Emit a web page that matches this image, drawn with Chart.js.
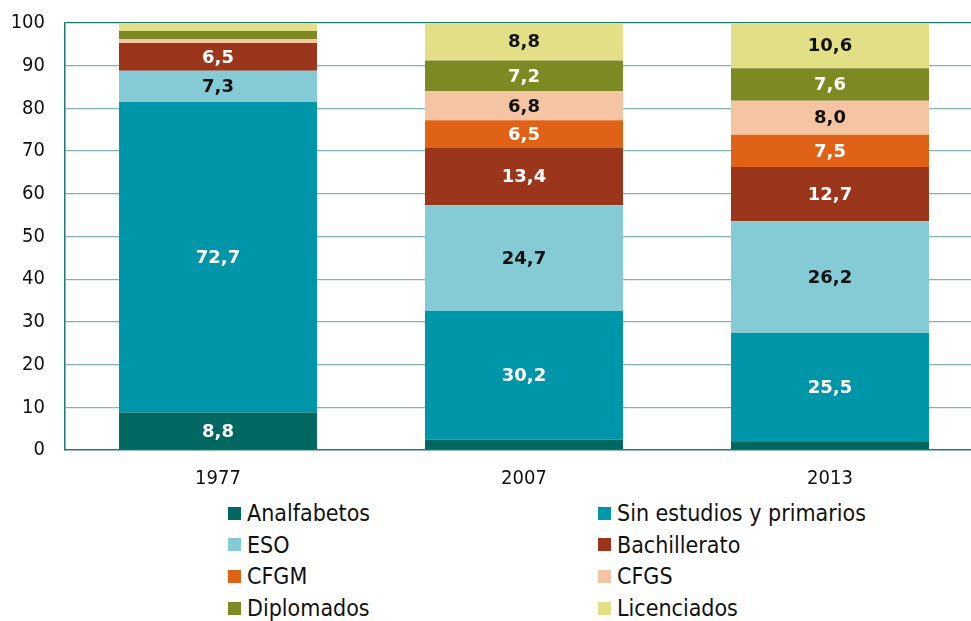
<!DOCTYPE html>
<html>
<head>
<meta charset="utf-8">
<script src="https://cdn.jsdelivr.net/npm/chart.js@4.4.1/dist/chart.umd.min.js"></script>
<style>
  html, body { margin: 0; padding: 0; background: #fff; overflow: hidden; }
  #wrap { position: relative; width: 971px; height: 621px; overflow: hidden; }
  #box { position: absolute; left: 0; top: -9px; width: 983px; height: 499px; }
  #legend { position: absolute; left: 0; top: 497px; width: 971px; }
  .item { position: absolute; display: flex; align-items: center; height: 32px;
          font-family: "DejaVu Sans Condensed", "Liberation Sans Narrow", sans-serif;
          font-size: 23px; color: #111; white-space: nowrap; }
  .item span.sw { display: inline-block; width: 13px; height: 13px; margin-right: 6px; }
</style>
</head>
<body>
<div id="wrap">
  <div id="box"><canvas id="chart"></canvas></div>
  <div id="legend"></div>
</div>
<script>
const years = ['1977', '2007', '2013'];

const analfabetos = [8.8, 2.4, 1.9];
const sinEstudios = [72.7, 30.2, 25.5];
const eso = [7.3, 24.7, 26.2];
const bachillerato = [6.5, 13.4, 12.7];
const cfgm = [0, 6.5, 7.5];
const cfgs = [0.9, 6.8, 8.0];
const diplomados = [1.9, 7.2, 7.6];
const licenciados = [1.8, 8.8, 10.6];

const yTicks = [0, 10, 20, 30, 40, 50, 60, 70, 80, 90, 100];

const series = [
  { label: 'Analfabetos', data: analfabetos, color: '#006761', text: '#fff' },
  { label: 'Sin estudios y primarios', data: sinEstudios, color: '#0096a9', text: '#fff' },
  { label: 'ESO', data: eso, color: '#84cbd5', text: '#111' },
  { label: 'Bachillerato', data: bachillerato, color: '#9b351b', text: '#fff' },
  { label: 'CFGM', data: cfgm, color: '#e06217', text: '#fff' },
  { label: 'CFGS', data: cfgs, color: '#f4c4a3', text: '#111' },
  { label: 'Diplomados', data: diplomados, color: '#7d8922', text: '#fff' },
  { label: 'Licenciados', data: licenciados, color: '#e2df86', text: '#111' }
];

// etiquetas dentro de cada tramo
const segmentLabels = {
  id: 'segmentLabels',
  afterDatasetsDraw(chart) {
    const ctx = chart.ctx;
    ctx.save();
    ctx.font = 'bold 18px "DejaVu Sans", sans-serif';
    ctx.textAlign = 'center';
    ctx.textBaseline = 'middle';
    chart.data.datasets.forEach((ds, i) => {
      const meta = chart.getDatasetMeta(i);
      meta.data.forEach((bar, j) => {
        const v = ds.data[j];
        if (v < 5) return;
        ctx.fillStyle = series[i].text;
        ctx.fillText(v.toFixed(1).replace('.', ','), bar.x, (bar.y + bar.base) / 2 + 1);
      });
    });
    ctx.restore();
  }
};

const tickFont = { family: '"DejaVu Sans Condensed", "DejaVu Sans", sans-serif', size: 20 };

const chart = new Chart(document.getElementById('chart'), {
  type: 'bar',
  data: {
    labels: years,
    datasets: series.map(s => ({
      label: s.label,
      data: s.data,
      backgroundColor: s.color,
      borderWidth: 0,
      categoryPercentage: 1,
      barPercentage: 0.647
    }))
  },
  options: {
    responsive: true,
    maintainAspectRatio: false,
    animation: false,
    layout: { padding: { top: 14, right: 0, left: 0, bottom: 0 } },
    plugins: { legend: { display: false }, tooltip: { enabled: false } },
    scales: {
      x: {
        stacked: true,
        grid: { display: false },
        border: { color: '#1b7873', width: 1.5 },
        ticks: { color: '#111', font: tickFont, padding: 9 },
        afterFit: s => { s.height = 40; }
      },
      y: {
        stacked: true,
        min: 0,
        max: 100,
        afterBuildTicks: s => { s.ticks = yTicks.map(v => ({ value: v })); },
        grid: {
          drawTicks: false,
          color: c => c.tick.value === 100 ? '#1b7873' : (c.tick.value === 0 ? 'rgba(0,0,0,0)' : '#7fb3ae'),
          lineWidth: 1.3
        },
        border: { color: '#1b7873', width: 1.5 },
        ticks: { color: '#111', font: tickFont, padding: 20 },
        afterFit: s => { s.width = 65; }
      }
    }
  },
  plugins: [segmentLabels]
});

// leyenda en dos columnas
const legend = document.getElementById('legend');
const colX = [228, 598];
series.forEach((s, i) => {
  const div = document.createElement('div');
  div.className = 'item';
  div.style.left = colX[i % 2] + 'px';
  div.style.top = (Math.floor(i / 2) * 31.7) + 'px';
  div.innerHTML = '<span class="sw" style="background:' + s.color + '"></span>' + s.label;
  legend.appendChild(div);
});
</script>
</body>
</html>
